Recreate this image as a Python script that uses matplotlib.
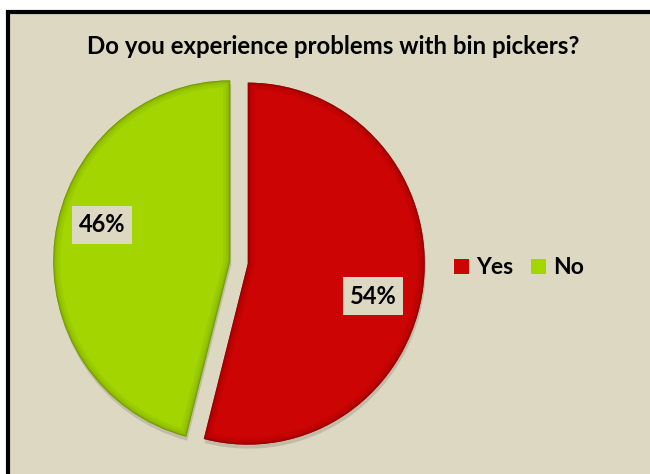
import matplotlib
matplotlib.use("Agg")
import matplotlib.pyplot as plt
from matplotlib.patches import Rectangle, Shadow, PathPatch

# Survey answers
title = "Do you experience problems with bin pickers?"
answers = ["Yes", "No"]
shares = [54, 46]
colors = ["#CC0404", "#A3D600"]
rim_colors = ["#7A0000", "#5E7D00"]

W, H = 650, 474
fig = plt.figure(figsize=(W / 100, H / 100), dpi=100, facecolor="white")

def px(x, y):
    """pixel position from top-left -> figure fraction"""
    return x / W, 1 - y / H

# chart area with black frame on left/top
bg = Rectangle((7.5 / W, -20 / H), (W + 20) / W, (H - 12.5 + 20) / H,
               transform=fig.transFigure, facecolor="#DDD8C2",
               edgecolor="black", linewidth=3, zorder=-5)
fig.patches.append(bg)

# pie axes: centre at (239, 262.5) px, radii 177 px horizontal, 181 px vertical
lim = 1.2
aw, ah = 2 * lim * 177, 2 * lim * 181
cx, cy = 239, 262.5
ax = fig.add_axes([(cx - aw / 2) / W, (H - cy - ah / 2) / H, aw / W, ah / H])
ax.patch.set_visible(False)

wedges, _ = ax.pie(shares, colors=colors, startangle=90, counterclock=False,
                   explode=[0.05, 0.05], radius=1.0,
                   wedgeprops=dict(linewidth=0))
ax.set_xlim(-lim, lim)
ax.set_ylim(-lim, lim)
ax.set_aspect("auto")
ax.axis("off")

for w, rim in zip(wedges, rim_colors):
    sh = Shadow(w, 0.004, -0.016, alpha=0.22, zorder=w.get_zorder() - 0.5)
    sh.set_facecolor("#5E5A4C")
    sh.set_edgecolor("none")
    ax.add_patch(sh)
    path = w.get_path()
    # inner bevel: darker bands along the wedge outline, clipped to the wedge
    for lw, a in [(10, 0.10), (6, 0.12), (3, 0.22), (1.2, 0.5)]:
        band = PathPatch(path, facecolor="none", edgecolor=rim,
                         linewidth=lw, alpha=a,
                         transform=w.get_transform(),
                         zorder=w.get_zorder() + 0.1)
        ax.add_patch(band)
        band.set_clip_path(w)

# percentage labels
label_pos = [(373, 296), (102, 225)]
for (lx, ly), v in zip(label_pos, shares):
    fx, fy = px(lx, ly)
    fig.text(fx, fy, f"{v}%", ha="center", va="center", fontsize=17,
             fontweight="bold", family="Lato", color="black",
             bbox=dict(boxstyle="square,pad=0.3", facecolor="#DDD8C2",
                       edgecolor="none"))

# title
tx, ty = px(333, 46)
fig.text(tx, ty, title, ha="center", va="center", fontsize=17.3,
         fontweight="bold", family="Lato", color="black")

# legend
lx, ly = px(454, 268)
fig.legend(wedges, answers, loc="center left", bbox_to_anchor=(lx, ly),
           ncol=2, frameon=False, handlelength=0.65, handleheight=0.65,
           handletextpad=0.3, columnspacing=0.8, borderpad=0, borderaxespad=0,
           prop=dict(family="Lato", weight="bold", size=16.5))

fig.savefig("out.png", dpi=100, facecolor="white")
